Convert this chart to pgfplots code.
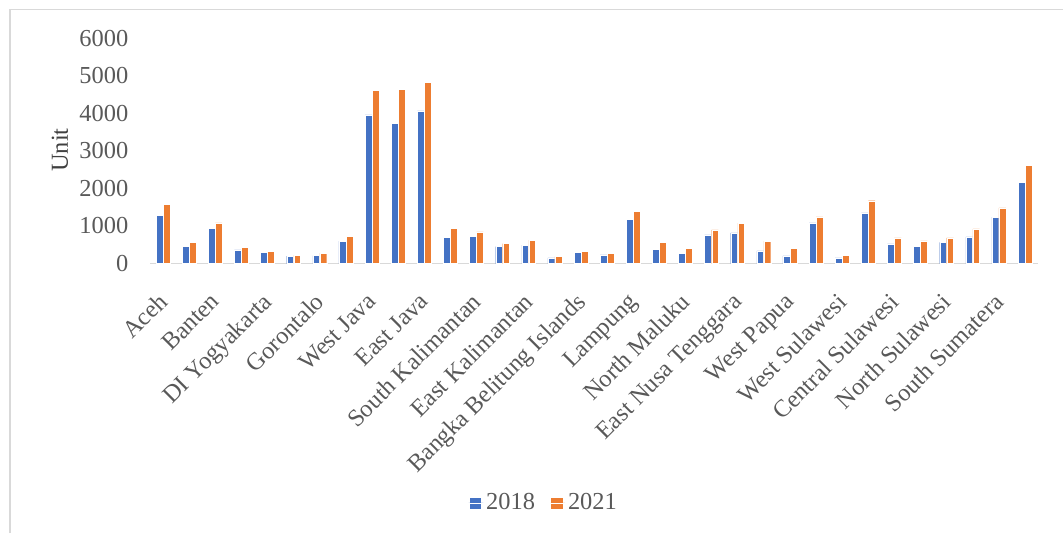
\documentclass[border=0pt]{standalone}
\usepackage{pgfplots}
\pgfplotsset{compat=1.18}
\usepackage{pgfplotstable}
\usepackage{fontspec}
\setmainfont{Liberation Serif}
\definecolor{cblue}{HTML}{4472C4}
\definecolor{corange}{HTML}{ED7D31}
\definecolor{txt}{HTML}{595959}
\definecolor{frame}{HTML}{D9D9D9}

% x = province index (34 provinces, alphabetical in Indonesian), a = 2018, b = 2021
\pgfplotstableread{
x  a    b
0  1280 1582
1  453  560
2  942  1084
3  364  427
4  293  329
5  196  222
6  213  276
7  596  729
8  3956 4604
9  3733 4640
10 4062 4827
11 693  942
12 720  844
13 453  533
14 489  622
15 151  187
16 293  329
17 231  276
18 1173 1387
19 373  569
20 267  409
21 764  898
22 818  1076
23 338  596
24 204  409
25 1084 1244
26 151  213
27 1351 1671
28 524  684
29 453  604
30 560  684
31 711  924
32 1236 1484
33 2169 2613
}\datatable

\pgfplotsset{sqlegend/.style={legend image code/.code={\fill[##1] (0pt,-4.5pt) rectangle (9.5pt,4.5pt); \path (0pt,0pt) -- (11pt,0pt);}}}

\begin{document}
\fontsize{18.3}{21}\selectfont
\begin{tikzpicture}[x=1pt,y=1pt]
\useasboundingbox (0,0) rectangle (797.25,399.75);
\draw[frame, line width=1pt] (7.5,0) -- (7.5,392.6) -- (797.25,392.6);
\begin{axis}[
  at={(112.5pt,202.1pt)}, anchor=south west,
  scale only axis, width=666pt, height=169.1pt,
  xmin=-0.5, xmax=33.5, ymin=0, ymax=6000,
  axis lines*=left,
  x axis line style={draw=frame, line width=1.1pt},
  y axis line style={draw=none},
  major tick length=0pt,
  ytick={0,1000,...,6000},
  xtick={0,2,...,32},
  xticklabels={Aceh,Banten,DI Yogyakarta,Gorontalo,West Java,East Java,South Kalimantan,East Kalimantan,Bangka Belitung Islands,Lampung,North Maluku,East Nusa Tenggara,West Papua,West Sulawesi,Central Sulawesi,North Sulawesi,South Sumatera},
  /pgf/number format/1000 sep={},
  /pgf/number format/assume math mode=true,
  tick label style={font=\fontsize{18.3}{21}\selectfont, text=txt},
  yticklabel style={anchor=east, xshift=-10pt},
  xticklabel style={xshift=-4.6pt, yshift=-17.9pt, rotate=45, anchor=north east, inner sep=2pt},
  ylabel={Unit},
  ylabel style={at={(axis description cs:-0.1014,0.5036)}, anchor=center, rotate=0, font=\fontsize{18.3}{21}\selectfont, text=black!75},
  legend style={at={(axis description cs:0.4437,-1.062)}, anchor=center, draw=none, fill=none, legend columns=2,
    font=\fontsize{18.3}{21}\selectfont, text=txt,
    /tikz/every even column/.append style={column sep=9.5pt}},
]
\addplot[ybar, bar width=0.26, fill=cblue, draw=white, line width=0.25pt, bar shift=-0.135, sqlegend] table[x=x, y=a] {\datatable};
\addplot[ybar, bar width=0.26, fill=corange, draw=white, line width=0.25pt, bar shift=0.135, sqlegend] table[x=x, y=b] {\datatable};
\legend{2018,2021}
\end{axis}
\end{tikzpicture}
\end{document}
